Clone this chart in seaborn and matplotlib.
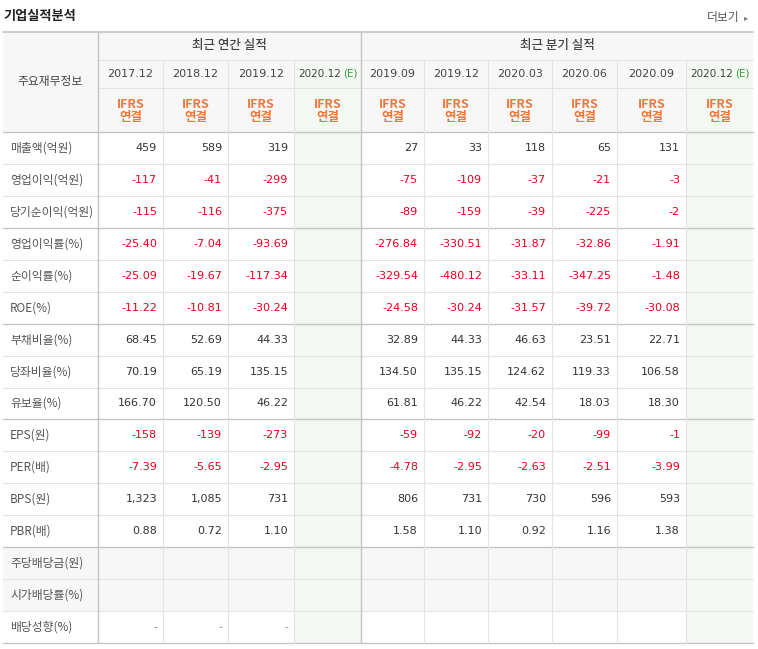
import matplotlib
matplotlib.use("Agg")
import matplotlib.pyplot as plt
import matplotlib.font_manager as fm
import seaborn as sns
from matplotlib.patches import Rectangle

sns.set_theme(style="white")
cjk = sorted({f.name for f in fm.fontManager.ttflist if "CJK" in f.name})
pref = [n for n in ["Noto Sans CJK KR", "Noto Sans CJK JP", "Noto Sans CJK SC"] if n in cjk] or cjk
plt.rcParams["font.family"] = "sans-serif"
plt.rcParams["font.sans-serif"] = pref + ["DejaVu Sans"]
NUMF = "DejaVu Sans"

periods = ["2017.12", "2018.12", "2019.12", "2020.12", "2019.09", "2019.12",
           "2020.03", "2020.06", "2020.09", "2020.12"]
estimate = [False, False, False, True, False, False, False, False, False, True]
row_labels = ["매출액(억원)", "영업이익(억원)", "당기순이익(억원)", "영업이익률(%)", "순이익률(%)",
              "ROE(%)", "부채비율(%)", "당좌비율(%)", "유보율(%)", "EPS(원)", "PER(배)",
              "BPS(원)", "PBR(배)", "주당배당금(원)", "시가배당률(%)", "배당성향(%)"]
values = [
    ["459", "589", "319", "", "27", "33", "118", "65", "131", ""],
    ["-117", "-41", "-299", "", "-75", "-109", "-37", "-21", "-3", ""],
    ["-115", "-116", "-375", "", "-89", "-159", "-39", "-225", "-2", ""],
    ["-25.40", "-7.04", "-93.69", "", "-276.84", "-330.51", "-31.87", "-32.86", "-1.91", ""],
    ["-25.09", "-19.67", "-117.34", "", "-329.54", "-480.12", "-33.11", "-347.25", "-1.48", ""],
    ["-11.22", "-10.81", "-30.24", "", "-24.58", "-30.24", "-31.57", "-39.72", "-30.08", ""],
    ["68.45", "52.69", "44.33", "", "32.89", "44.33", "46.63", "23.51", "22.71", ""],
    ["70.19", "65.19", "135.15", "", "134.50", "135.15", "124.62", "119.33", "106.58", ""],
    ["166.70", "120.50", "46.22", "", "61.81", "46.22", "42.54", "18.03", "18.30", ""],
    ["-158", "-139", "-273", "", "-59", "-92", "-20", "-99", "-1", ""],
    ["-7.39", "-5.65", "-2.95", "", "-4.78", "-2.95", "-2.63", "-2.51", "-3.99", ""],
    ["1,323", "1,085", "731", "", "806", "731", "730", "596", "593", ""],
    ["0.88", "0.72", "1.10", "", "1.58", "1.10", "0.92", "1.16", "1.38", ""],
    ["", "", "", "", "", "", "", "", "", ""],
    ["", "", "", "", "", "", "", "", "", ""],
    ["-", "-", "-", "", "", "", "", "", "", ""],
]

W, H = 758, 649
fig = plt.figure(figsize=(W / 100, H / 100), dpi=100)
ax = fig.add_axes([0, 0, 1, 1])
ax.set_xlim(0, W)
ax.set_ylim(H, 0)
ax.axis("off")

xs = [3, 98, 163, 228, 294, 361, 424, 488, 552, 617, 686, 753]
y_top, y_h1, y_h2, y_h3 = 32, 60, 88, 132
rh = (643 - 132) / 16
ys = [y_h3 + i * rh for i in range(17)]
HEAD = "#f7f7f7"
GREEN = "#f3f8f2"
LINE = "#e3e3e3"
DARK = "#c4c4c4"

def rect(x0, y0, x1, y1, c):
    ax.add_patch(Rectangle((x0, y0), x1 - x0, y1 - y0, fc=c, ec="none", zorder=0))

rect(xs[0], y_top, xs[-1], y_h3, HEAD)
for r in (13, 14):
    rect(xs[0], ys[r], xs[-1], ys[r + 1], HEAD)
for j, e in enumerate(estimate):
    if e:
        rect(xs[j + 1], y_h1, xs[j + 2], ys[16], GREEN)

ax.text(3, 16, "기업실적분석", fontsize=9.5, fontweight="bold", color="#222", va="center")
ax.text(740, 18, "더보기", fontsize=8.5, color="#555", va="center", ha="right")
ax.text(748, 18, "▸", fontsize=6, color="#777", va="center", ha="right", family="DejaVu Sans")

ax.plot([xs[0], xs[-1]], [y_top, y_top], color=DARK, lw=1.2)
ax.plot([xs[1], xs[-1]], [y_h1, y_h1], color=LINE, lw=0.8)
ax.plot([xs[1], xs[-1]], [y_h2, y_h2], color=LINE, lw=0.8)
ax.plot([xs[0], xs[-1]], [y_h3, y_h3], color=DARK, lw=1.0)
for i in range(1, 16):
    dark = i in (3, 6, 9, 13)
    ax.plot([xs[0], xs[-1]], [ys[i], ys[i]], color=DARK if dark else LINE, lw=1.0 if dark else 0.8)
ax.plot([xs[0], xs[-1]], [ys[16], ys[16]], color=DARK, lw=1.0)
for k, x in enumerate(xs):
    if k in (0, 11):
        continue
    dark = k in (1, 5)
    y0 = y_top if dark else y_h1
    ax.plot([x, x], [y0, ys[16]], color=DARK if dark else LINE, lw=1.0 if dark else 0.8)

ax.text((xs[0] + xs[1]) / 2, (y_top + y_h3) / 2, "주요재무정보", fontsize=8.5, color="#444",
        ha="center", va="center")
ax.text((xs[1] + xs[5]) / 2, (y_top + y_h1) / 2, "최근 연간 실적", fontsize=9, color="#444",
        ha="center", va="center", fontweight="medium")
ax.text((xs[5] + xs[11]) / 2, (y_top + y_h1) / 2, "최근 분기 실적", fontsize=9, color="#444",
        ha="center", va="center", fontweight="medium")
for j, p in enumerate(periods):
    cx = (xs[j + 1] + xs[j + 2]) / 2
    cy = (y_h1 + y_h2) / 2
    if estimate[j]:
        ax.text(xs[j + 1] + 4, cy, p, fontsize=7.5, color="#444", ha="left", va="center", family=NUMF)
        ax.text(xs[j + 2] - 3, cy, "(E)", fontsize=7.5, color="#3a9a3a", ha="right", va="center", family=NUMF)
    else:
        ax.text(cx, cy, p, fontsize=8, color="#444", ha="center", va="center", family=NUMF)
    ax.text(cx, 104, "IFRS", fontsize=9, color="#f0783c", ha="center", va="center", fontweight="bold")
    ax.text(cx, 118, "연결", fontsize=9, color="#f0783c", ha="center", va="center", fontweight="bold")

for i, lab in enumerate(row_labels):
    cy = (ys[i] + ys[i + 1]) / 2
    ax.text(10, cy, lab, fontsize=8.5, color="#555", ha="left", va="center")
    for j, v in enumerate(values[i]):
        if not v:
            continue
        col = "#e5001b" if v.startswith("-") and v != "-" else "#333"
        if v == "-":
            col = "#888"
        ax.text(xs[j + 2] - 6, cy, v, fontsize=8, color=col, ha="right", va="center", family=NUMF)

fig.savefig("out.png", dpi=100)
